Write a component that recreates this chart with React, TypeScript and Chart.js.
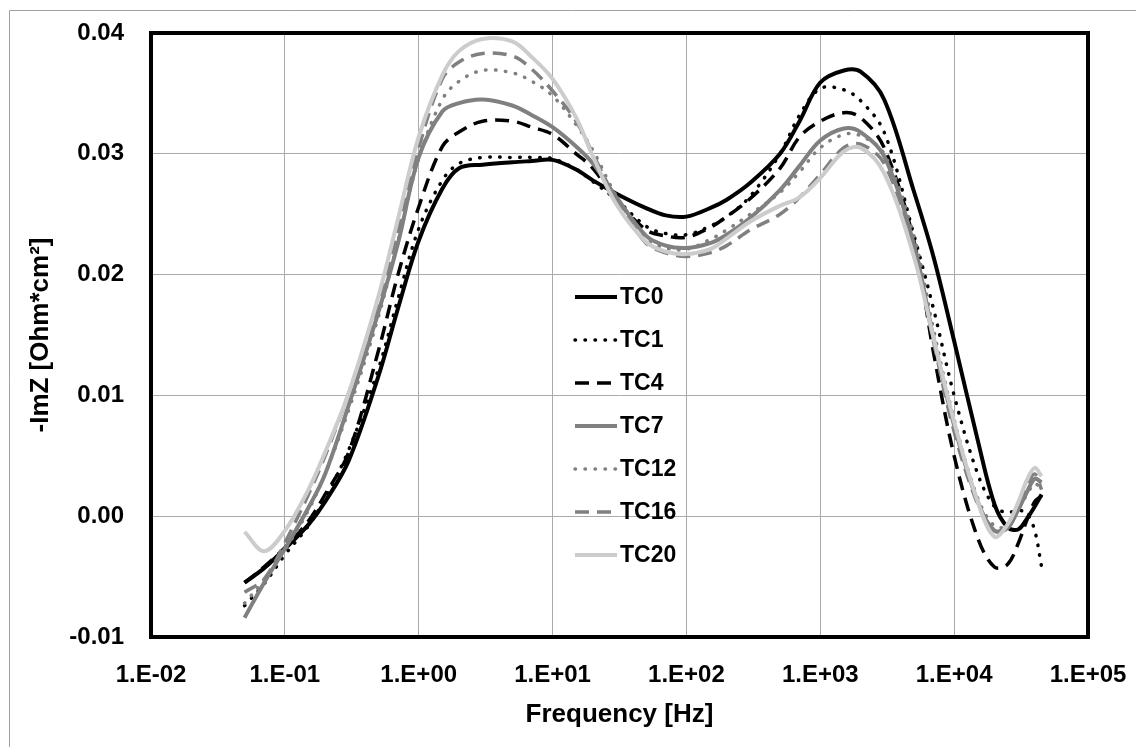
import { useEffect, useRef } from "react";
import { Chart, registerables } from "chart.js";

Chart.register(...registerables);

// ---------- data ----------
const frequencies = [
  0.05, 0.07, 0.1, 0.15, 0.2, 0.3, 0.5, 0.7,
  1, 1.5, 2, 3, 5, 7,
  10, 15, 20, 30, 50, 70,
  100, 150, 200, 300, 500, 700,
  1000, 1500, 2000, 3000, 5000, 7000,
  10000, 15000, 20000, 25000, 30000, 35000, 40000, 45000,
];

const seriesNames = ["TC0", "TC1", "TC4", "TC7", "TC12", "TC16", "TC20"];

const tc0 = [
  -0.0055, -0.0043, -0.0027, -0.0007, 0.0012, 0.0046, 0.0116, 0.0172,
  0.0228, 0.0271, 0.0288, 0.0291, 0.0293, 0.0294,
  0.0295, 0.0287, 0.0278, 0.0267, 0.0255, 0.0249,
  0.0248, 0.0255, 0.0262, 0.0276, 0.0300, 0.0327,
  0.0359, 0.0369, 0.0368, 0.0345, 0.0269, 0.0215,
  0.0145, 0.0063, 0.0010, -0.0009, -0.0011, -0.0002, 0.0008, 0.0018,
];
const tc1 = [
  -0.0074, -0.0056, -0.0032, -0.0008, 0.0015, 0.0055, 0.0122, 0.0180,
  0.0238, 0.0278, 0.0292, 0.0297, 0.0297, 0.0297,
  0.0296, 0.0287, 0.0277, 0.0262, 0.0240, 0.0234,
  0.0233, 0.0240, 0.0248, 0.0265, 0.0300, 0.0332,
  0.0354, 0.0353, 0.0344, 0.0318, 0.0233, 0.0172,
  0.0100, 0.0035, 0.0008, 0.0003, 0.0005, 0.0002, -0.0012, -0.0042,
];
const tc4 = [
  -0.0055, -0.0042, -0.0026, -0.0004, 0.0018, 0.0053, 0.0137, 0.0200,
  0.0256, 0.0306, 0.0318, 0.0327, 0.0327, 0.0322,
  0.0316, 0.0300, 0.0288, 0.0262, 0.0237, 0.0232,
  0.0231, 0.0239, 0.0248, 0.0263, 0.0288, 0.0314,
  0.0327, 0.0334, 0.0330, 0.0305, 0.0228, 0.0136,
  0.0050, -0.0018, -0.0042, -0.0040, -0.0023, -0.0003, 0.0012, 0.0017,
];
const tc7 = [
  -0.0084, -0.0055, -0.0027, 0.0007, 0.0035, 0.0092, 0.0169, 0.0226,
  0.0297, 0.0335, 0.0342, 0.0345, 0.0340, 0.0332,
  0.0322, 0.0306, 0.0292, 0.0264, 0.0232, 0.0224,
  0.0222, 0.0226, 0.0233, 0.0247, 0.0270, 0.0290,
  0.0311, 0.0321, 0.0318, 0.0298, 0.0225, 0.0148,
  0.0075, 0.0012, -0.0012, -0.0010, 0.0005, 0.0020, 0.0031, 0.0028,
];
const tc12 = [
  -0.0072, -0.0053, -0.0028, 0.0005, 0.0035, 0.0088, 0.0165, 0.0228,
  0.0296, 0.0345, 0.0360, 0.0369, 0.0367, 0.0360,
  0.0348, 0.0324, 0.0303, 0.0265, 0.0230, 0.0222,
  0.0221, 0.0229, 0.0237, 0.0250, 0.0268, 0.0285,
  0.0305, 0.0316, 0.0315, 0.0300, 0.0232, 0.0155,
  0.0080, 0.0015, -0.0008, -0.0008, 0.0005, 0.0018, 0.0027, 0.0022,
];
const tc16 = [
  -0.0063, -0.0052, -0.0022, 0.0018, 0.0050, 0.0102, 0.0178, 0.0237,
  0.0305, 0.0362, 0.0376, 0.0383, 0.0381, 0.0370,
  0.0352, 0.0327, 0.0300, 0.0262, 0.0226, 0.0218,
  0.0215, 0.0218, 0.0224, 0.0237, 0.0250, 0.0264,
  0.0283, 0.0305, 0.0308, 0.0292, 0.0222, 0.0145,
  0.0070, 0.0010, -0.0012, -0.0008, 0.0008, 0.0025, 0.0035, 0.0022,
];
const tc20 = [
  -0.0013, -0.0029, -0.0012, 0.0022, 0.0053, 0.0102, 0.0182, 0.0246,
  0.0314, 0.0365, 0.0385, 0.0395, 0.0393, 0.0380,
  0.0362, 0.0330, 0.0298, 0.0258, 0.0227, 0.0219,
  0.0217, 0.0221, 0.0230, 0.0244, 0.0257, 0.0264,
  0.0280, 0.0302, 0.0305, 0.0284, 0.0215, 0.0148,
  0.0078, 0.0012, -0.0017, -0.0007, 0.0011, 0.0030, 0.0040, 0.0033,
];

const seriesValues = [tc0, tc1, tc4, tc7, tc12, tc16, tc20];

const xTickValues = [0.01, 0.1, 1, 10, 100, 1000, 10000, 100000];
const xTickLabels = ["1.E-02", "1.E-01", "1.E+00", "1.E+01", "1.E+02", "1.E+03", "1.E+04", "1.E+05"];
const yTickValues = [-0.01, 0, 0.01, 0.02, 0.03, 0.04];
const yTickLabels = ["-0.01", "0.00", "0.01", "0.02", "0.03", "0.04"];

// ---------- styles ----------
const seriesColors = ["#000000", "#000000", "#000000", "#808080", "#808080", "#808080", "#cccccc"];
const seriesWidths = [4, 3.5, 3.5, 4, 3.5, 3.5, 4];
const seriesDashes: number[][] = [[], [0.5, 9.5], [14, 8], [], [0.5, 9.5], [14, 8], []];
const seriesCaps: CanvasLineCap[] = ["butt", "round", "butt", "butt", "round", "butt", "butt"];

const FONT_FAMILY = "'Liberation Sans', Arial, sans-serif";

const backgroundPlugin = {
  id: "bgFrame",
  beforeDraw(chart: any) {
    const ctx = chart.ctx as CanvasRenderingContext2D;
    ctx.save();
    ctx.fillStyle = "#ffffff";
    ctx.fillRect(0, 0, chart.width, chart.height);
    ctx.strokeStyle = "#a0a0a0";
    ctx.lineWidth = 1;
    ctx.beginPath();
    ctx.moveTo(9.5, chart.height);
    ctx.lineTo(9.5, 10.5);
    ctx.lineTo(chart.width, 10.5);
    ctx.stroke();
    ctx.restore();
  },
  afterDatasetsDraw(chart: any) {
    const ctx = chart.ctx as CanvasRenderingContext2D;
    const a = chart.chartArea;
    ctx.save();
    ctx.strokeStyle = "#000000";
    ctx.lineWidth = 4;
    ctx.strokeRect(a.left, a.top, a.right - a.left, a.bottom - a.top);
    ctx.restore();
  },
};

const legendPlugin = {
  id: "innerLegend",
  afterDraw(chart: any) {
    const ctx = chart.ctx as CanvasRenderingContext2D;
    const startX = 575;
    const lineLen = 42;
    const firstY = 297;
    const rowGap = 43;
    ctx.save();
    ctx.font = `bold 23px ${FONT_FAMILY}`;
    ctx.textBaseline = "middle";
    ctx.textAlign = "left";
    seriesNames.forEach((name, i) => {
      const y = firstY + i * rowGap;
      ctx.beginPath();
      ctx.strokeStyle = seriesColors[i];
      ctx.lineWidth = seriesWidths[i];
      ctx.lineCap = seriesCaps[i];
      ctx.setLineDash(seriesDashes[i]);
      ctx.moveTo(startX, y);
      ctx.lineTo(startX + lineLen, y);
      ctx.stroke();
      ctx.setLineDash([]);
      ctx.fillStyle = "#000000";
      ctx.fillText(name, startX + lineLen + 3, y + 1);
    });
    ctx.restore();
  },
};

const zeroPadding = (s: any) => {
  s.paddingTop = 0;
  s.paddingBottom = 0;
  s.paddingLeft = 0;
  s.paddingRight = 0;
};

export default function App() {
  const canvasRef = useRef<HTMLCanvasElement | null>(null);

  useEffect(() => {
    const canvas = canvasRef.current;
    if (!canvas) return;

    const datasets = seriesNames.map((name, i) => ({
      label: name,
      data: frequencies.map((f, j) => ({ x: f, y: seriesValues[i][j] })),
      borderColor: seriesColors[i],
      backgroundColor: seriesColors[i],
      borderWidth: seriesWidths[i],
      borderDash: seriesDashes[i],
      borderCapStyle: seriesCaps[i],
      pointRadius: 0,
      pointHoverRadius: 0,
      fill: false,
      tension: 0.35,
      order: seriesNames.length - 1 - i,
    }));

    const tickFont = { family: FONT_FAMILY, size: 24, weight: "bold" as const };
    const titleFont = { family: FONT_FAMILY, size: 26, weight: "bold" as const };

    const chart = new Chart(canvas, {
      type: "line",
      data: { datasets },
      options: {
        animation: false,
        responsive: false,
        devicePixelRatio: 1,
        layout: { padding: { top: 33, right: 48, left: 0, bottom: 0 }, autoPadding: false },
        plugins: {
          legend: { display: false },
          tooltip: { enabled: false },
        },
        scales: {
          x: {
            type: "logarithmic",
            min: 0.01,
            max: 100000,
            afterFit: (s: any) => {
              s.height = 110;
              zeroPadding(s);
            },
            afterBuildTicks: (s: any) => {
              s.ticks = xTickValues.map((v) => ({ value: v }));
            },
            ticks: {
              autoSkip: false,
              maxRotation: 0,
              minRotation: 0,
              padding: 24,
              color: "#000000",
              font: tickFont,
              callback: (_v: any, i: number) => xTickLabels[i],
            },
            grid: { color: "#aaaaaa", lineWidth: 1, drawTicks: false },
            border: { display: false },
            title: {
              display: true,
              text: "Frequency [Hz]",
              color: "#000000",
              font: titleFont,
              padding: { top: 0, bottom: 17 },
            },
          },
          y: {
            type: "linear",
            min: -0.01,
            max: 0.04,
            afterFit: (s: any) => {
              s.width = 151;
              zeroPadding(s);
            },
            afterBuildTicks: (s: any) => {
              s.ticks = yTickValues.map((v) => ({ value: v }));
            },
            ticks: {
              padding: 27,
              color: "#000000",
              font: tickFont,
              callback: (_v: any, i: number) => yTickLabels[i],
            },
            grid: { color: "#aaaaaa", lineWidth: 1, drawTicks: false },
            border: { display: false },
            title: {
              display: true,
              text: "-ImZ [Ohm*cm²]",
              color: "#000000",
              font: titleFont,
              padding: { top: 25, bottom: 0 },
            },
          },
        },
      },
      plugins: [backgroundPlugin, legendPlugin],
    } as any);

    return () => chart.destroy();
  }, []);

  return (
    <div style={{ position: "absolute", left: 0, top: 0, width: 1136, height: 747, background: "#ffffff" }}>
      <canvas ref={canvasRef} width={1136} height={747} style={{ display: "block", width: 1136, height: 747 }} />
    </div>
  );
}
